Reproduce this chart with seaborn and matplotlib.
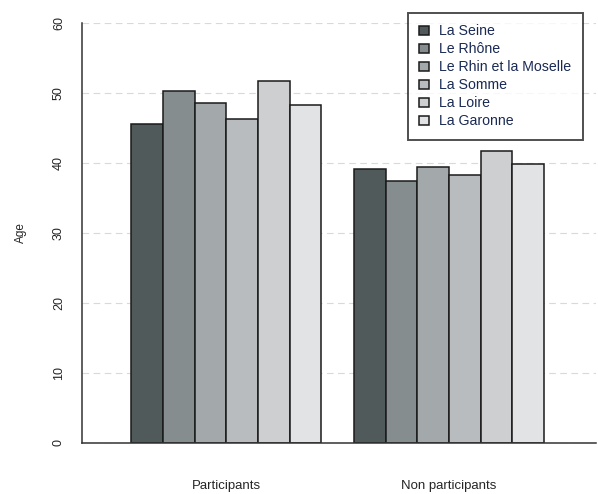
import numpy as np
import pandas as pd
import matplotlib
matplotlib.use("Agg")
import matplotlib.pyplot as plt
import seaborn as sns

groups = ["Participants", "Non participants"]
rivers = ["La Seine", "Le Rhône", "Le Rhin et la Moselle", "La Somme", "La Loire", "La Garonne"]
age_participants = [45.5, 50.3, 48.6, 46.2, 51.7, 48.3]
age_non_participants = [39.1, 37.4, 39.4, 38.2, 41.7, 39.8]
y_ticks = [0, 10, 20, 30, 40, 50, 60]

colors = ["#505a5b", "#868d8f", "#a3a8aa", "#b9bcbe", "#cdcfd1", "#e2e3e4"]

df = pd.DataFrame({
    "groupe": [groups[0]] * len(rivers) + [groups[1]] * len(rivers),
    "bassin": rivers * 2,
    "age": age_participants + age_non_participants,
})

sns.set_theme(style="white")
plt.rcParams["font.family"] = ["Liberation Sans", "DejaVu Sans"]

fig = plt.figure(figsize=(5.98, 4.94), dpi=100)
ax = fig.add_axes([0.1365, 0.1038, 0.8602, 0.8502])

sns.barplot(data=df, x="groupe", y="age", hue="bassin", order=groups,
            hue_order=rivers, palette=colors, width=0.854, gap=0,
            edgecolor="#1a1a1a", linewidth=1.1, saturation=1, ax=ax, zorder=2)

ax.set_xlim(-0.65, 1.66)
ax.set_ylim(0, 60)
ax.set_yticks(y_ticks)
ax.set_yticklabels([str(t) for t in y_ticks], rotation=90, va="center", fontsize=9)
ax.yaxis.grid(True, color="#d9d9d9", linestyle=(0, (6, 4)), linewidth=0.8, zorder=0)
ax.set_axisbelow(True)

for s in ["top", "right"]:
    ax.spines[s].set_visible(False)
for s in ["left", "bottom"]:
    ax.spines[s].set_color("#333333")
    ax.spines[s].set_linewidth(1.1)

ax.tick_params(axis="y", direction="out", length=9, width=1.1, color="#333333", pad=3)
ax.tick_params(axis="x", length=0, pad=27, labelsize=9.5)
ax.set_xlabel("")
ax.set_ylabel("Age", fontsize=8.5, labelpad=19)

handles, labels = ax.get_legend_handles_labels()
leg = ax.legend(handles, labels, loc="upper right", bbox_to_anchor=(0.9744, 1.023),
                borderaxespad=0, fontsize=10.2, frameon=True, fancybox=False,
                handlelength=0.75, handleheight=0.6, handletextpad=0.7,
                labelspacing=0.28, borderpad=0.8)
leg.get_frame().set_edgecolor("#222222")
leg.get_frame().set_linewidth(1.4)
for t in leg.get_texts():
    t.set_color("#1a2a55")

fig.savefig("out.png", dpi=100)
